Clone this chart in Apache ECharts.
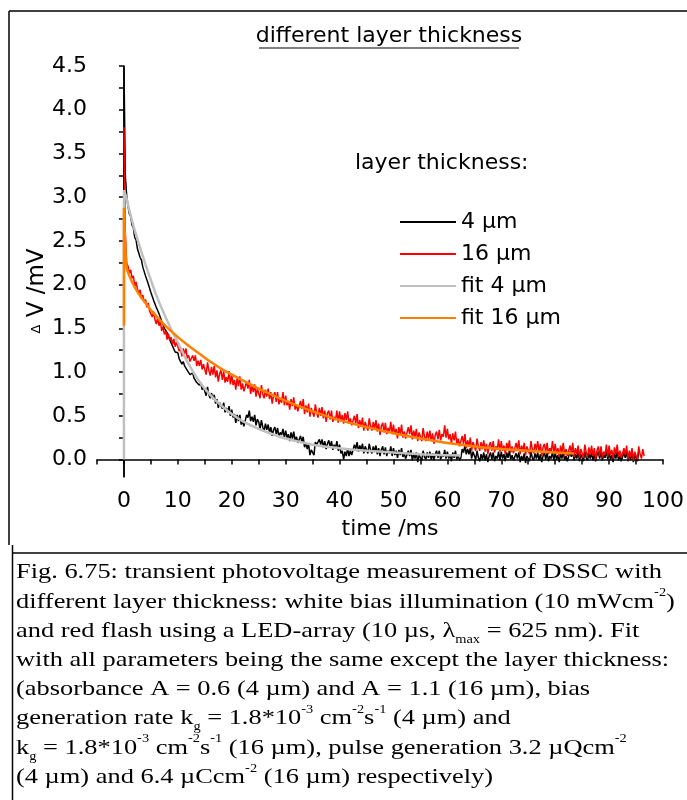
<!DOCTYPE html>
<html>
<head>
<meta charset="utf-8">
<script src="https://cdn.jsdelivr.net/npm/echarts@6/dist/echarts.min.js"></script>
<style>
  html, body { margin: 0; padding: 0; background: #fff; }
  #chart { width: 687px; height: 800px; }
</style>
</head>
<body>
<div id="chart"></div>
<script>
// Transient photovoltage traces, sampled every 0.25 ms from the flash (t = 0).
const SAMPLE_STEP_MS = 0.25;

// 4 µm layer: level just before the flash, then the recorded trace (mV)
const black4Pre = -0.2;
const black4 = [
  4.50, 3.25, 3.02, 2.90, 2.81, 2.78, 2.68, 2.65, 2.54, 2.51,
  2.41, 2.39, 2.31, 2.28, 2.20, 2.20, 2.10, 2.08, 2.01, 2.00,
  1.91, 1.92, 1.82, 1.83, 1.74, 1.74, 1.67, 1.65, 1.58, 1.60,
  1.50, 1.51, 1.45, 1.44, 1.37, 1.38, 1.30, 1.32, 1.23, 1.24,
  1.22, 1.15, 1.15, 1.09, 1.12, 1.07, 1.09, 1.02, 1.03, 0.97,
  0.96, 0.99, 0.93, 0.95, 0.88, 0.90, 0.85, 0.88, 0.80, 0.83,
  0.82, 0.73, 0.83, 0.74, 0.70, 0.76, 0.69, 0.74, 0.64, 0.69,
  0.59, 0.65, 0.67, 0.58, 0.65, 0.54, 0.59, 0.54, 0.61, 0.50,
  0.57, 0.48, 0.52, 0.42, 0.51, 0.44, 0.51, 0.40, 0.44, 0.38,
  0.40, 0.51, 0.48, 0.56, 0.44, 0.49, 0.43, 0.51, 0.39, 0.46,
  0.43, 0.35, 0.45, 0.37, 0.33, 0.41, 0.34, 0.40, 0.31, 0.37,
  0.27, 0.34, 0.37, 0.29, 0.36, 0.26, 0.31, 0.28, 0.35, 0.25,
  0.33, 0.25, 0.29, 0.21, 0.31, 0.24, 0.32, 0.21, 0.26, 0.19,
  0.19, 0.27, 0.20, 0.26, 0.14, 0.19, 0.12, 0.18, 0.05, 0.11,
  0.09, 0.05, 0.20, 0.17, 0.15, 0.23, 0.17, 0.23, 0.14, 0.21,
  0.12, 0.18, 0.22, 0.14, 0.21, 0.11, 0.17, 0.13, 0.21, 0.10,
  0.17, 0.07, 0.10, 0.00, 0.09, 0.04, 0.13, 0.04, 0.10, 0.05,
  0.07, 0.17, 0.12, 0.20, 0.09, 0.16, 0.11, 0.18, 0.07, 0.15,
  0.15, 0.07, 0.18, 0.11, 0.07, 0.15, 0.09, 0.16, 0.06, 0.13,
  0.04, 0.11, 0.15, 0.06, 0.14, 0.04, 0.10, 0.07, 0.15, 0.04,
  0.13, 0.05, 0.10, 0.02, 0.11, 0.05, 0.13, 0.03, 0.07, 0.01,
  0.02, 0.10, 0.04, 0.11, -0.01, 0.06, 0.01, 0.08, -0.03, 0.05,
  0.06, -0.01, 0.10, 0.03, 0.00, 0.08, 0.02, 0.09, 0.00, 0.07,
  -0.01, 0.06, 0.10, 0.02, 0.10, 0.00, 0.06, 0.03, 0.11, 0.01,
  0.09, 0.01, 0.06, -0.02, 0.08, 0.02, 0.10, 0.00, 0.05, -0.01,
  0.02, 0.12, 0.08, 0.16, 0.06, 0.12, 0.06, 0.13, 0.01, 0.09,
  0.08, 0.00, 0.10, 0.02, -0.02, 0.06, 0.00, 0.08, -0.01, 0.06,
  -0.03, 0.04, 0.08, 0.00, 0.08, -0.02, 0.04, 0.01, 0.09, -0.01,
  0.09, 0.01, 0.06, -0.02, 0.08, 0.02, 0.10, 0.00, 0.05, -0.01,
  -0.02, 0.07, 0.01, 0.08, -0.03, 0.04, -0.01, 0.07, -0.04, 0.04,
  0.05, -0.02, 0.09, 0.02, -0.01, 0.07, 0.01, 0.08, -0.01, 0.06,
  -0.03, 0.04, 0.08, 0.00, 0.08, -0.02, 0.04, 0.01, 0.09, -0.01,
  0.08, 0.00, 0.05, -0.03, 0.07, 0.01, 0.09, -0.01, 0.04, -0.02,
  0.00, 0.09, 0.03, 0.10, -0.01, 0.06, 0.01, 0.09, -0.02, 0.06,
  0.05, -0.02, 0.09, 0.02, -0.01, 0.07, 0.01, 0.08, -0.01, 0.06,
  -0.02, 0.05, 0.09, 0.01, 0.09, -0.01, 0.05, 0.02, 0.10, 0.00,
  0.08, 0.00, 0.05, -0.03, 0.07, 0.01, 0.09, -0.01, 0.04, -0.02,
  -0.01, 0.08, 0.02, 0.09, -0.02, 0.05, 0.00, 0.08, -0.03, 0.05,
  0.05, -0.02, 0.09
];

// 16 µm layer trace (mV)
const red16 = [
  3.80, 2.60, 2.25, 2.21, 2.13, 2.17, 2.07, 2.10, 1.98, 2.03,
  1.95, 1.90, 1.94, 1.84, 1.88, 1.80, 1.83, 1.74, 1.79, 1.70,
  1.72, 1.63, 1.69, 1.60, 1.55, 1.62, 1.53, 1.58, 1.47, 1.52,
  1.43, 1.47, 1.37, 1.44, 1.36, 1.40, 1.31, 1.38, 1.29, 1.34,
  1.33, 1.24, 1.27, 1.18, 1.27, 1.20, 1.27, 1.16, 1.19, 1.12,
  1.12, 1.19, 1.13, 1.19, 1.07, 1.13, 1.07, 1.14, 1.03, 1.09,
  1.08, 0.97, 1.11, 1.02, 0.96, 1.06, 0.97, 1.07, 0.94, 1.02,
  0.89, 0.98, 1.02, 0.91, 1.01, 0.88, 0.94, 0.89, 1.01, 0.86,
  0.97, 0.85, 0.91, 0.80, 0.93, 0.84, 0.95, 0.80, 0.87, 0.78,
  0.79, 0.89, 0.81, 0.91, 0.75, 0.84, 0.77, 0.86, 0.72, 0.81,
  0.81, 0.70, 0.85, 0.75, 0.70, 0.80, 0.72, 0.81, 0.69, 0.77,
  0.64, 0.73, 0.77, 0.66, 0.77, 0.63, 0.70, 0.65, 0.77, 0.62,
  0.73, 0.62, 0.67, 0.57, 0.69, 0.61, 0.71, 0.57, 0.63, 0.55,
  0.56, 0.67, 0.58, 0.69, 0.52, 0.62, 0.54, 0.64, 0.49, 0.59,
  0.59, 0.49, 0.63, 0.54, 0.48, 0.59, 0.50, 0.60, 0.47, 0.56,
  0.43, 0.53, 0.56, 0.46, 0.56, 0.43, 0.49, 0.45, 0.56, 0.42,
  0.55, 0.44, 0.51, 0.41, 0.53, 0.45, 0.55, 0.41, 0.47, 0.39,
  0.39, 0.50, 0.41, 0.52, 0.36, 0.45, 0.38, 0.48, 0.33, 0.43,
  0.43, 0.33, 0.47, 0.38, 0.33, 0.43, 0.35, 0.45, 0.32, 0.41,
  0.28, 0.38, 0.42, 0.31, 0.42, 0.29, 0.36, 0.31, 0.43, 0.29,
  0.40, 0.29, 0.35, 0.24, 0.37, 0.29, 0.40, 0.25, 0.32, 0.24,
  0.26, 0.37, 0.29, 0.39, 0.23, 0.33, 0.26, 0.35, 0.21, 0.31,
  0.31, 0.21, 0.36, 0.26, 0.21, 0.32, 0.24, 0.33, 0.21, 0.30,
  0.18, 0.28, 0.32, 0.23, 0.34, 0.22, 0.29, 0.26, 0.39, 0.25,
  0.35, 0.23, 0.29, 0.18, 0.30, 0.22, 0.32, 0.17, 0.24, 0.15,
  0.16, 0.27, 0.18, 0.29, 0.13, 0.22, 0.15, 0.25, 0.10, 0.20,
  0.20, 0.10, 0.24, 0.15, 0.10, 0.20, 0.12, 0.22, 0.09, 0.18,
  0.06, 0.16, 0.20, 0.10, 0.21, 0.08, 0.15, 0.11, 0.23, 0.09,
  0.21, 0.10, 0.16, 0.06, 0.19, 0.11, 0.22, 0.08, 0.15, 0.07,
  0.08, 0.19, 0.11, 0.22, 0.06, 0.16, 0.09, 0.19, 0.05, 0.15,
  0.16, 0.06, 0.21, 0.12, 0.07, 0.18, 0.11, 0.21, 0.09, 0.18,
  0.04, 0.14, 0.18, 0.08, 0.19, 0.06, 0.13, 0.09, 0.21, 0.07,
  0.18, 0.07, 0.13, 0.03, 0.16, 0.08, 0.19, 0.05, 0.12, 0.04,
  0.05, 0.16, 0.08, 0.19, 0.03, 0.13, 0.06, 0.16, 0.02, 0.12,
  0.12, 0.02, 0.17, 0.08, 0.03, 0.14, 0.06, 0.16, 0.04, 0.13,
  0.00, 0.10, 0.15, 0.04, 0.15, 0.02, 0.09, 0.05, 0.17, 0.03,
  0.16, 0.05, 0.11, 0.01, 0.14, 0.06, 0.17, 0.03, 0.10, 0.02,
  0.02, 0.13, 0.05, 0.16, 0.00, 0.10, 0.03, 0.13, -0.01, 0.09,
  0.10, 0.00, 0.15, 0.06, 0.01, 0.12, 0.04
];

// Model fits: time (ms) and voltage (mV)
const fit4T = [0, 0, 0.5, 1, 2, 3, 4, 5, 6, 7, 8, 9, 10, 12, 14, 16, 18, 20, 22, 25, 28, 30, 35, 40, 45, 50, 55, 60, 62.5];
const fit4V = [0, 3.08, 2.98, 2.85, 2.62, 2.42, 2.23, 2.05, 1.88, 1.73, 1.59, 1.46, 1.34, 1.09, 0.89, 0.74, 0.62, 0.52, 0.44, 0.35, 0.28, 0.24, 0.17, 0.13, 0.10, 0.08, 0.06, 0.05, 0.045];

const fit16T = [0, 0, 0.2, 0.5, 1, 2, 3, 4, 5, 6, 8, 10, 12, 14, 16, 18, 20, 22.5, 25, 30, 35, 40, 45, 50, 55, 60, 65, 70, 75, 80, 83.5];
const fit16V = [1.53, 2.88, 2.50, 2.20, 2.10, 1.97, 1.87, 1.79, 1.71, 1.64, 1.51, 1.40, 1.30, 1.21, 1.12, 1.04, 0.97, 0.89, 0.81, 0.67, 0.55, 0.45, 0.37, 0.30, 0.24, 0.19, 0.15, 0.12, 0.10, 0.08, 0.07];

// Axis labels and tick positions
const xLabels = [0, 10, 20, 30, 40, 50, 60, 70, 80, 90, 100];
const xTicks = [-5, 0, 5, 10, 15, 20, 25, 30, 35, 40, 45, 50, 55, 60, 65, 70, 75, 80, 85, 90, 95, 100];
const yLabels = [0, 0.5, 1, 1.5, 2, 2.5, 3, 3.5, 4, 4.5];
const yTicks = [0, 0.25, 0.5, 0.75, 1, 1.25, 1.5, 1.75, 2, 2.25, 2.5, 2.75, 3, 3.25, 3.5, 3.75, 4, 4.25, 4.5];

const seriesNames = ['4 µm', '16 µm', 'fit 4 µm', 'fit 16 µm'];

function sampled(pre, values) {
  const pts = [];
  if (pre !== null) pts.push([0, pre]);
  values.forEach((v, i) => pts.push([i * SAMPLE_STEP_MS, v]));
  return pts;
}
function paired(ts, vs) {
  return ts.map((t, i) => [t, vs[i]]);
}

const SANS = '"DejaVu Sans", Arial, sans-serif';
const SERIF = '"Liberation Serif", "Times New Roman", serif';

const captionText = [
  'Fig. 6.75: transient photovoltage measurement of DSSC with',
  'different layer thickness: white bias illumination (10 mWcm{sup|-2})',
  'and red flash using a LED-array (10 µs, λ{sub|max} = 625 nm). Fit',
  'with all parameters being the same except the layer thickness:',
  '(absorbance A = 0.6 (4 µm) and A = 1.1 (16 µm), bias',
  'generation rate k{sub|g} = 1.8*10{sup|-3} cm{sup|-2}s{sup|-1} (4 µm) and',
  'k{sub|g} = 1.8*10{sup|-3} cm{sup|-2}s{sup|-1} (16 µm), pulse generation 3.2 µQcm{sup|-2}',
  '(4 µm) and 6.4 µCcm{sup|-2} (16 µm) respectively)'
].join('\n');

const chart = echarts.init(document.getElementById('chart'), null, { renderer: 'canvas' });

chart.setOption({
  animation: false,
  backgroundColor: '#ffffff',
  grid: { left: 97, right: 21, top: 66, bottom: 323, containLabel: false },
  xAxis: {
    type: 'value', min: -5, max: 100,
    axisLine: { show: true, lineStyle: { color: '#000', width: 1.5 } },
    axisTick: { show: true, inside: false, length: 5, customValues: xTicks, lineStyle: { color: '#000', width: 1.5 } },
    axisLabel: { customValues: xLabels, margin: 13, color: '#000', fontSize: 22, fontFamily: SANS },
    splitLine: { show: false }
  },
  yAxis: {
    type: 'value', min: -0.2, max: 4.5,
    axisLine: { show: true, lineStyle: { color: '#000', width: 1.5 } },
    axisTick: { show: true, inside: false, length: 5, customValues: yTicks, lineStyle: { color: '#000', width: 1.5 } },
    axisLabel: {
      customValues: yLabels, margin: 10, color: '#000', fontSize: 22, fontFamily: SANS,
      formatter: v => v.toFixed(1)
    },
    splitLine: { show: false }
  },
  legend: {
    orient: 'vertical', left: 394, top: 205,
    itemWidth: 56, itemHeight: 14, itemGap: 8,
    data: seriesNames,
    itemStyle: { opacity: 0 },
    textStyle: { color: '#000', fontSize: 22, lineHeight: 24, fontFamily: SANS }
  },
  series: [
    { name: seriesNames[0], type: 'line', showSymbol: false, symbol: 'none',
      lineStyle: { color: '#000000', width: 1.5 }, itemStyle: { color: '#000000' },
      data: sampled(black4Pre, black4), z: 2 },
    { name: seriesNames[1], type: 'line', showSymbol: false, symbol: 'none',
      lineStyle: { color: '#ff0000', width: 1.5 }, itemStyle: { color: '#ff0000' },
      data: sampled(null, red16), z: 3 },
    { name: seriesNames[2], type: 'line', showSymbol: false, symbol: 'none', smooth: 0.3,
      lineStyle: { color: '#c0c0c0', width: 2.5 }, itemStyle: { color: '#c0c0c0' },
      data: paired(fit4T, fit4V), z: 4 },
    { name: seriesNames[3], type: 'line', showSymbol: false, symbol: 'none', smooth: 0.3,
      lineStyle: { color: '#ff8000', width: 2.5 }, itemStyle: { color: '#ff8000' },
      data: paired(fit16T, fit16V), z: 5 }
  ],
  graphic: [
    // outer frame
    { type: 'line', shape: { x1: 9, y1: 11, x2: 687, y2: 11 }, style: { stroke: '#000', lineWidth: 1.5 } },
    { type: 'line', shape: { x1: 9, y1: 11, x2: 9, y2: 545 }, style: { stroke: '#000', lineWidth: 1.5 } },
    { type: 'line', shape: { x1: 12.5, y1: 545, x2: 12.5, y2: 800 }, style: { stroke: '#000', lineWidth: 1.5 } },
    { type: 'line', shape: { x1: 12.5, y1: 553, x2: 687, y2: 553 }, style: { stroke: '#000', lineWidth: 1.5 } },
    // title with underline
    { type: 'text', x: 389, y: 36, style: {
        text: 'different layer thickness', fill: '#000', font: '22px ' + SANS,
        align: 'center', verticalAlign: 'middle' } },
    { type: 'line', shape: { x1: 259, y1: 48, x2: 519, y2: 48 }, style: { stroke: '#000', lineWidth: 1.2 } },
    // legend heading
    { type: 'text', x: 355, y: 163, style: {
        text: 'layer thickness:', fill: '#000', font: '22px ' + SANS,
        align: 'left', verticalAlign: 'middle' } },
    // axis titles
    { type: 'text', x: 37, y: 291, rotation: Math.PI / 2, style: {
        text: '{d|Δ} V /mV', fill: '#000', font: '23px ' + SANS,
        align: 'center', verticalAlign: 'middle',
        rich: { d: { fontSize: 13, fontFamily: SANS, fill: '#000' } } } },
    { type: 'text', x: 390, y: 529, style: {
        text: 'time /ms', fill: '#000', font: '22px ' + SANS,
        align: 'center', verticalAlign: 'middle' } },
    // caption, set in a serif face widened to the column width
    { type: 'text', x: 16, y: 558, scaleX: 1.2, style: {
        text: captionText, fill: '#000', font: '22px ' + SERIF,
        lineHeight: 29.2, align: 'left', verticalAlign: 'top',
        rich: {
          sup: { fontSize: 12, fontFamily: SERIF, lineHeight: 18, verticalAlign: 'top', fill: '#000' },
          sub: { fontSize: 12, fontFamily: SERIF, lineHeight: 14, verticalAlign: 'bottom', fill: '#000' }
        } } }
  ]
});
</script>
</body>
</html>
